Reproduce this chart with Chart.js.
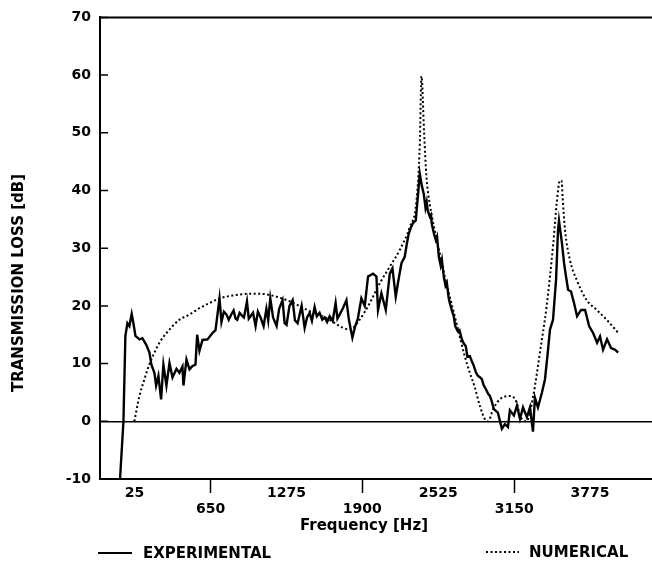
<!DOCTYPE html>
<html>
<head>
<meta charset="utf-8">
<script src="https://cdn.jsdelivr.net/npm/chart.js@4.4.0/dist/chart.umd.min.js"></script>
<style>
  html, body { margin: 0; padding: 0; background: #fff; }
  #wrap { width: 652px; height: 567px; position: relative; }
</style>
</head>
<body>
<div id="wrap"><canvas id="tlChart"></canvas></div>
<script>
// Transmission loss vs frequency
const expFreq = [-95, -67, -51, -34, -18, 1, 15, 32, 65, 89, 122, 147, 163, 188, 202, 221, 243, 262, 287, 312,
  337, 370, 394, 419, 427, 452, 477, 502, 526, 540, 559, 584, 625, 666, 691, 724, 740, 760, 782, 800,
  823, 840, 856, 870, 889, 905, 925, 938, 950, 965, 980, 1000, 1021, 1040, 1062, 1087, 1110, 1125, 1142, 1165,
  1194, 1215, 1243, 1260, 1276, 1300, 1326, 1345, 1367, 1400, 1425, 1445, 1466, 1485, 1507, 1525, 1548, 1570, 1590, 1610,
  1631, 1656, 1680, 1695, 1713, 1740, 1769, 1790, 1818, 1840, 1862, 1892, 1920, 1947, 1988, 2016, 2029, 2057, 2093, 2126,
  2148, 2175, 2200, 2222, 2249, 2265, 2282, 2300, 2315, 2340, 2359, 2373, 2390, 2406, 2420, 2430, 2439, 2455, 2465, 2472,
  2490, 2505, 2515, 2530, 2545, 2555, 2571, 2585, 2596, 2610, 2620, 2640, 2653, 2665, 2686, 2700, 2719, 2735, 2752, 2765,
  2785, 2800, 2818, 2835, 2851, 2870, 2884, 2900, 2917, 2935, 2950, 2965, 2983, 3016, 3049, 3074, 3099, 3115, 3148, 3173,
  3198, 3223, 3255, 3280, 3305, 3321, 3346, 3379, 3404, 3429, 3445, 3470, 3495, 3511, 3519, 3544, 3561, 3577, 3594, 3618,
  3643, 3668, 3701, 3734, 3767, 3800, 3833, 3857, 3882, 3915, 3948, 3981, 4006];
const expLoss = [-10, 0, 14.8, 17, 16.5, 18.6, 17, 14.8, 14.2, 14.4, 13.2, 11.9, 9.8, 8.4, 6.2, 7.9, 3.8, 9.8, 6.2, 10.1,
  7.6, 9.1, 8.4, 9.5, 6.2, 10.7, 9.0, 9.6, 9.8, 15.0, 12.2, 14.1, 14.2, 15.3, 15.8, 21.3, 17.2, 19.0, 18.5, 17.6,
  18.6, 19.2, 17.8, 17.6, 18.8, 18.4, 18.0, 19.4, 20.8, 17.8, 18.2, 18.8, 16.5, 19.0, 18.0, 16.5, 19.5, 17.5, 21.3, 18.0,
  16.5, 19.5, 21.0, 17.0, 16.7, 20.0, 21.0, 17.5, 17.0, 20.0, 16.2, 18.0, 18.8, 17.4, 19.8, 18.2, 18.8, 17.6, 18.0, 17.2,
  18.2, 17.4, 20.5, 17.8, 18.5, 19.6, 21.0, 17.5, 14.5, 16.4, 17.7, 21.3, 20.0, 25.1, 25.6, 25.1, 19.3, 22.2, 19.3, 25.6,
  26.5, 21.6, 24.8, 27.4, 28.5, 30.6, 32.5, 33.6, 34.3, 34.8, 39.4, 42.9, 40.8, 39.4, 37.0, 38.0, 36.5, 35.5, 35.8, 34.2,
  32.5, 31.4, 32.0, 28.5, 27.0, 28.0, 25.0, 23.5, 24.0, 21.5, 20.5, 19.0, 18.2, 16.5, 15.6, 15.8, 14.2, 13.5, 13.0, 11.2,
  11.3, 10.5, 9.6, 8.5, 7.9, 7.6, 7.3, 6.2, 5.6, 4.8, 4.4, 3.5, 2.1, 1.5, -1.3, -0.5, -1.0, 1.9, 1.0, 2.7,
  0.4, 2.4, 0.7, 2.4, -1.8, 4.1, 2.4, 5.0, 7.3, 12.4, 15.9, 17.6, 24.5, 33.1, 34.8, 30.8, 27.4, 25.1, 22.8, 22.5,
  20.5, 18.2, 19.3, 19.3, 16.5, 15.3, 13.6, 14.7, 12.4, 14.2, 12.7, 12.4, 11.9];

const numFreq = [23, 65, 106, 147, 188, 229, 312, 394, 477, 559, 642, 724, 831, 971, 1054, 1136, 1301, 1466, 1631, 1713,
  1796, 1878, 1961, 2043, 2126, 2208, 2291, 2346, 2373, 2387, 2408, 2428, 2455, 2496, 2538, 2579, 2620, 2661, 2702, 2743,
  2785, 2826, 2867, 2908, 2936, 2977, 3032, 3115, 3170, 3198, 3252, 3307, 3362, 3417, 3472, 3500, 3527, 3541, 3549, 3569,
  3610, 3665, 3747, 3830, 3912, 4008];
const numLoss = [0, 4.4, 7.3, 9.9, 11.9, 13.6, 15.9, 17.6, 18.5, 19.6, 20.5, 21.3, 21.8, 22.1, 22.1, 21.9, 20.8, 19.1, 17.6, 16.5,
  15.9, 17.6, 20.5, 23.9, 26.8, 29.7, 33.7, 38.3, 48, 59.8, 50.3, 42.3, 37.7, 33.1, 29.1, 25.1, 21.6, 18.2, 14.7, 11.3,
  8.4, 5.9, 2.7, 0.4, 0, 2.1, 3.8, 4.4, 3.3, 1, 0, 4.4, 11.9, 19.9, 30.8, 37.7, 41.7, 41.7, 38.9, 33.1,
  27.9, 24.5, 21, 19.3, 17.6, 15.3];

const xTickValues = [25, 650, 1275, 1900, 2525, 3150, 3775];
const yTickValues = [-10, 0, 10, 20, 30, 40, 50, 60, 70];

const FONT = '"DejaVu Sans", Arial, sans-serif';

(function() {
  function toPoints(xs, ys) {
    return xs.map((x, i) => ({ x: x, y: ys[i] }));
  }

  // frame, inward ticks, axis titles and the split legend
  const decorations = {
    id: 'decorations',
    afterDraw(chart) {
      const { ctx, chartArea: a, scales } = chart;
      ctx.save();
      ctx.strokeStyle = '#000';
      ctx.fillStyle = '#000';

      // top border of the frame
      ctx.lineWidth = 2;
      ctx.beginPath();
      ctx.moveTo(a.left, a.top);
      ctx.lineTo(a.right, a.top);
      ctx.stroke();

      // y ticks pointing into the plot
      ctx.lineWidth = 1.5;
      ctx.beginPath();
      scales.y.ticks.forEach(t => {
        const py = scales.y.getPixelForValue(t.value);
        ctx.moveTo(a.left, py);
        ctx.lineTo(a.left + 8, py);
      });
      ctx.stroke();

      // axis titles
      ctx.font = 'bold 15px ' + FONT;
      ctx.textAlign = 'center';
      ctx.textBaseline = 'middle';
      ctx.fillText('Frequency [Hz]', 364, 526);
      ctx.save();
      ctx.translate(19, 283);
      ctx.rotate(-Math.PI / 2);
      ctx.fillText('TRANSMISSION LOSS [dB]', 0, 0);
      ctx.restore();

      // legend
      const ds = chart.data.datasets;
      const items = [
        { d: ds[0], x0: 98, x1: 132, tx: 143, y: 553 },
        { d: ds[1], x0: 486, x1: 519, tx: 529, y: 552 }
      ];
      ctx.textAlign = 'left';
      items.forEach(it => {
        ctx.lineWidth = 2;
        ctx.setLineDash(it.d.borderDash || []);
        ctx.beginPath();
        ctx.moveTo(it.x0, it.y);
        ctx.lineTo(it.x1, it.y);
        ctx.stroke();
        ctx.setLineDash([]);
        ctx.fillText(it.d.label, it.tx, it.y + 1);
      });
      ctx.restore();
    }
  };

  new Chart(document.getElementById('tlChart'), {
    type: 'line',
    data: {
      datasets: [{
        label: 'EXPERIMENTAL',
        data: toPoints(expFreq, expLoss),
        borderColor: '#000',
        borderWidth: 2.4,
        pointRadius: 0,
        tension: 0,
        fill: false
      }, {
        label: 'NUMERICAL',
        data: toPoints(numFreq, numLoss),
        borderColor: '#000',
        borderWidth: 2,
        borderDash: [2, 2.5],
        pointRadius: 0,
        cubicInterpolationMode: 'monotone',
        fill: false
      }]
    },
    options: {
      responsive: true,
      maintainAspectRatio: false,
      animation: false,
      layout: { padding: { top: 14, right: 0, bottom: 0, left: 0 } },
      plugins: {
        legend: { display: false },
        tooltip: { enabled: false }
      },
      scales: {
        x: {
          type: 'linear',
          min: -260,
          max: 4285,
          afterFit(scale) { scale.height = 88; },
          afterBuildTicks(scale) { scale.ticks = xTickValues.map(v => ({ value: v })); },
          border: { display: true, color: '#000', width: 2 },
          grid: {
            display: true,
            drawOnChartArea: false,
            drawTicks: true,
            tickLength: 14,
            tickWidth: 1.5,
            tickColor: (c) => (c.index % 2 === 1 ? '#000' : 'rgba(0,0,0,0)')
          },
          ticks: {
            color: '#000',
            padding: -8,
            maxRotation: 0,
            autoSkip: false,
            font: { family: FONT, size: 14, weight: 'bold', lineHeight: 1.15 },
            callback: (value, index) => (index % 2 === 1 ? ['', String(value)] : String(value))
          }
        },
        y: {
          min: -10,
          max: 70,
          afterFit(scale) { scale.width = 100; },
          afterBuildTicks(scale) { scale.ticks = yTickValues.map(v => ({ value: v })); },
          border: { display: true, color: '#000', width: 2 },
          grid: {
            drawTicks: false,
            lineWidth: 1.5,
            color: (c) => (c.tick && c.tick.value === 0 ? '#000' : 'rgba(0,0,0,0)')
          },
          ticks: {
            color: '#000',
            padding: 9,
            font: { family: FONT, size: 14, weight: 'bold' }
          }
        }
      }
    },
    plugins: [decorations]
  });
})();
</script>
</body>
</html>
